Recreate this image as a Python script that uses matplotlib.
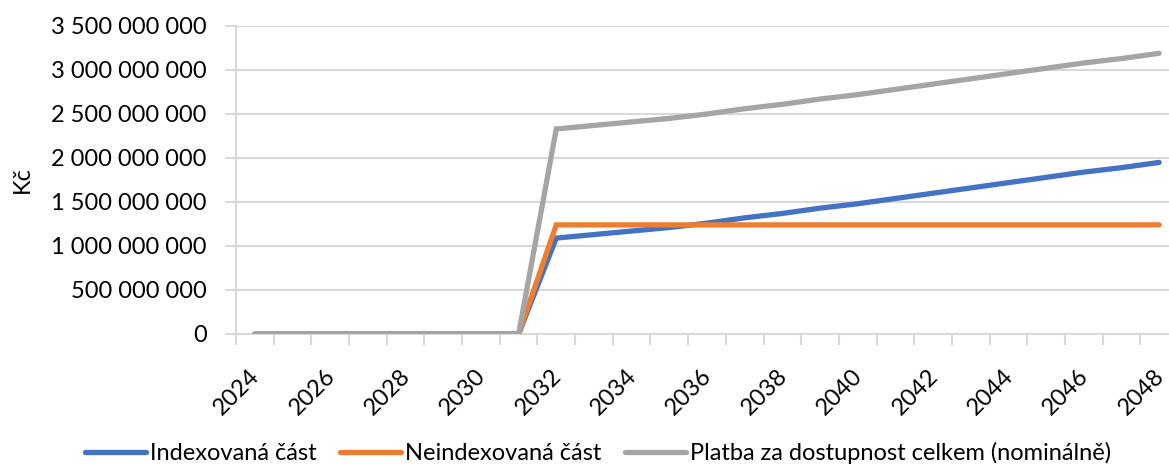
import matplotlib
matplotlib.use("Agg")
import matplotlib.pyplot as plt
import matplotlib.transforms as mtransforms
from matplotlib.ticker import FuncFormatter, MultipleLocator

years = list(range(2024, 2049))
# values in CZK
indexovana = [0, 0, 0, 0, 0, 0, 0, 0,
              1.09e9, 1.13e9, 1.17e9, 1.21e9, 1.26e9, 1.32e9, 1.37e9, 1.43e9,
              1.48e9, 1.54e9, 1.60e9, 1.66e9, 1.72e9, 1.78e9, 1.84e9, 1.89e9, 1.95e9]
neindexovana = [0, 0, 0, 0, 0, 0, 0, 0] + [1.24e9] * 17
celkem = [0, 0, 0, 0, 0, 0, 0, 0,
          2.33e9, 2.37e9, 2.41e9, 2.45e9, 2.50e9, 2.56e9, 2.61e9, 2.67e9,
          2.72e9, 2.78e9, 2.84e9, 2.90e9, 2.96e9, 3.02e9, 3.08e9, 3.13e9, 3.19e9]
series_names = ["Indexovaná část", "Neindexovaná část",
                "Platba za dostupnost celkem (nominálně)"]
colors = ["#4472C4", "#ED7D31", "#A5A5A5"]
ylabel = "Kč"

plt.rcParams['font.family'] = ['Lato', 'DejaVu Sans']
FS = 17

fig = plt.figure(figsize=(11.69, 4.66), dpi=100)
ax = fig.add_axes([236 / 1169, 132 / 466, 942 / 1169, 308 / 466])

x = list(range(len(years)))
lines = []
for i, (vals, name, c) in enumerate(zip([indexovana, neindexovana, celkem], series_names, colors)):
    ln, = ax.plot(x, vals, color=c, lw=3.8, solid_capstyle='round',
                  solid_joinstyle='miter', label=name, zorder=3 + i)
    lines.append(ln)

ax.set_xlim(-0.5, len(years) - 0.5)
ax.set_ylim(0, 3.5e9)
ax.yaxis.set_major_locator(MultipleLocator(5e8))
ax.yaxis.set_major_formatter(FuncFormatter(lambda v, p: f"{int(round(v)):,}".replace(",", " ")))
ax.grid(axis='y', color='#D9D9D9', lw=1.5, zorder=0)
ax.set_axisbelow(True)

ax.set_xticks(x[::2])
ax.set_xticklabels([str(y) for y in years[::2]], rotation=45, ha='right',
                   va='top', rotation_mode='anchor', fontsize=FS)
ax.set_xticks([i - 0.5 for i in range(len(years) + 1)], minor=True)
ax.tick_params(axis='x', which='major', length=0, pad=0)
ax.tick_params(axis='x', which='minor', length=8, width=1.5, color='#D9D9D9')
ax.tick_params(axis='y', length=8, width=1.5, color='#D9D9D9', labelsize=FS, pad=13)
offset = mtransforms.ScaledTranslation(-6 / 100, -31 / 100, fig.dpi_scale_trans)
for lbl in ax.get_xticklabels():
    lbl.set_transform(lbl.get_transform() + offset)

for s in ['top', 'right']:
    ax.spines[s].set_visible(False)
for s in ['left', 'bottom']:
    ax.spines[s].set_color('#D9D9D9')
    ax.spines[s].set_linewidth(1.5)

fig.text(22 / 1169, 1 - 180 / 466, ylabel, rotation=90, ha='center', va='center', fontsize=FS)

fig.legend(handles=lines, loc='center', bbox_to_anchor=(598 / 1169, 1 - 453 / 466),
           ncol=3, frameon=False, fontsize=FS, handlelength=2.6, handletextpad=0.15,
           columnspacing=1.0, borderaxespad=0, borderpad=0)

fig.savefig("out.png", dpi=100)
